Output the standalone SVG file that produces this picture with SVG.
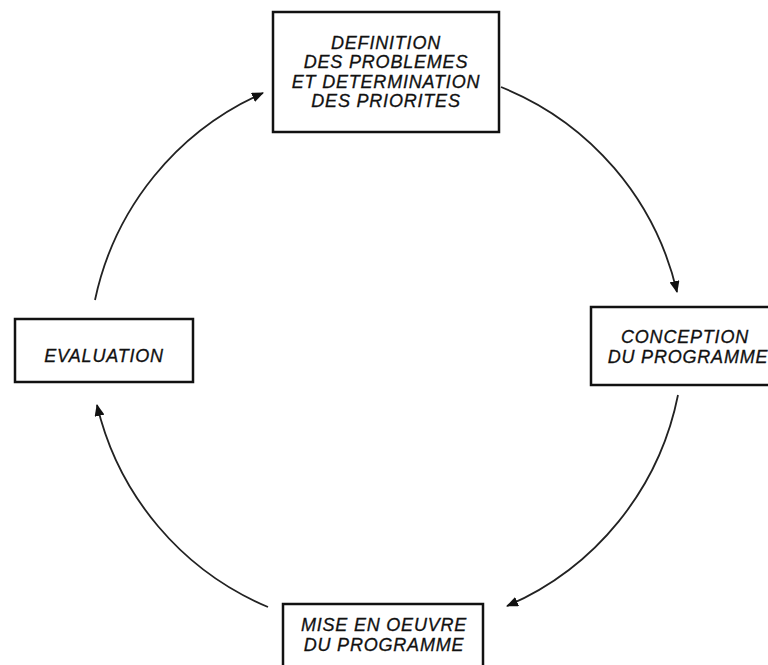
<svg xmlns="http://www.w3.org/2000/svg" width="768" height="665" viewBox="0 0 768 665">
<defs>
<style>
.box{fill:#fff;stroke:#111;stroke-width:2.5}
.lbl{font-family:"Liberation Sans",Arial,sans-serif;font-style:italic;font-size:18px;fill:#111;stroke:#111;stroke-width:0.3;text-anchor:middle;letter-spacing:0.8px}
.arc{fill:none;stroke:#222;stroke-width:1.8}
</style>
<marker id="ah" viewBox="0 0 12 10" refX="11" refY="5" markerWidth="12" markerHeight="10" markerUnits="userSpaceOnUse" orient="auto">
<path d="M0,0 L12,5 L0,10 Z" fill="#111"/>
</marker>
</defs>
<rect width="768" height="665" fill="#fff"/>
<g id="connectors">
<path class="arc" d="M501,87 A292,292 0 0 1 677,292" marker-end="url(#ah)"/>
<path class="arc" d="M678,395 A292,292 0 0 1 507,606" marker-end="url(#ah)"/>
<path class="arc" d="M268,607 A292,292 0 0 1 97,405" marker-end="url(#ah)"/>
<path class="arc" d="M95,300 A292,292 0 0 1 263,93" marker-end="url(#ah)"/>
</g>
<g id="node-definition">
<rect class="box" x="273" y="12" width="226" height="120"/>
<text class="lbl" x="386" y="49">DEFINITION</text>
<text class="lbl" x="386" y="68">DES PROBLEMES</text>
<text class="lbl" x="386" y="88">ET DETERMINATION</text>
<text class="lbl" x="386" y="107">DES PRIORITES</text>
</g>
<g id="node-conception">
<rect class="box" x="591" y="307" width="190" height="78"/>
<text class="lbl" x="685" y="343">CONCEPTION</text>
<text class="lbl" x="688" y="363">DU PROGRAMME</text>
</g>
<g id="node-evaluation">
<rect class="box" x="15" y="319" width="178" height="63"/>
<text class="lbl" x="104" y="362">EVALUATION</text>
</g>
<g id="node-mise">
<rect class="box" x="283" y="604" width="200" height="70"/>
<text class="lbl" x="384" y="631">MISE EN OEUVRE</text>
<text class="lbl" x="384" y="651">DU PROGRAMME</text>
</g>
</svg>
